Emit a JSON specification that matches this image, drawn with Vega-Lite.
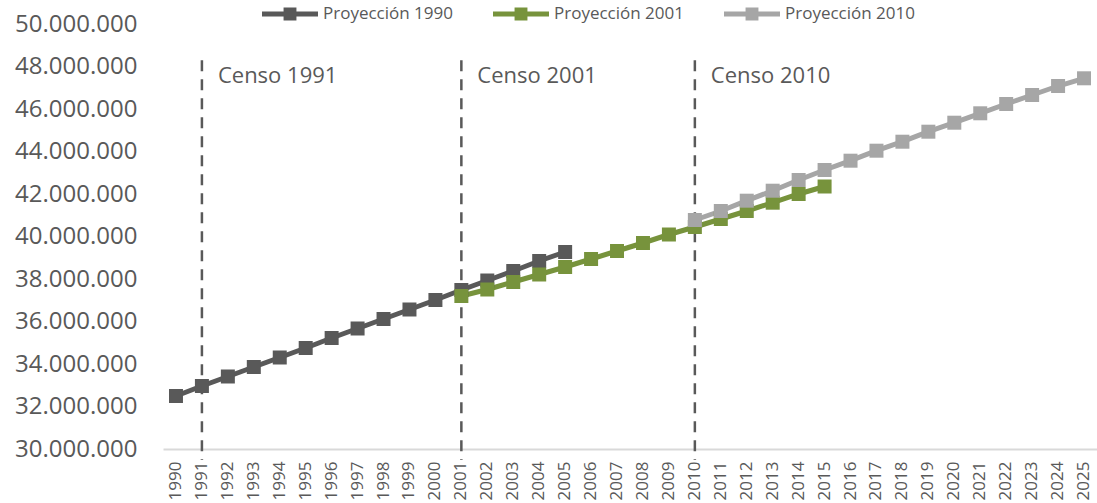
{
  "$schema": "https://vega.github.io/schema/vega-lite/v6.json",
  "width": 934,
  "height": 425,
  "autosize": "none",
  "padding": {"left": 163, "top": 24, "right": 0, "bottom": 54},
  "background": "white",
  "datasets": {
    "series": [
      {"serie": "Proyección 1990", "year": 1990, "value": 32494000},
      {"serie": "Proyección 1990", "year": 1991, "value": 32965000},
      {"serie": "Proyección 1990", "year": 1992, "value": 33412000},
      {"serie": "Proyección 1990", "year": 1993, "value": 33859000},
      {"serie": "Proyección 1990", "year": 1994, "value": 34306000},
      {"serie": "Proyección 1990", "year": 1995, "value": 34753000},
      {"serie": "Proyección 1990", "year": 1996, "value": 35224000},
      {"serie": "Proyección 1990", "year": 1997, "value": 35671000},
      {"serie": "Proyección 1990", "year": 1998, "value": 36118000},
      {"serie": "Proyección 1990", "year": 1999, "value": 36565000},
      {"serie": "Proyección 1990", "year": 2000, "value": 37012000},
      {"serie": "Proyección 1990", "year": 2001, "value": 37482000},
      {"serie": "Proyección 1990", "year": 2002, "value": 37929000},
      {"serie": "Proyección 1990", "year": 2003, "value": 38376000},
      {"serie": "Proyección 1990", "year": 2004, "value": 38847000},
      {"serie": "Proyección 1990", "year": 2005, "value": 39271000},
      {"serie": "Proyección 2001", "year": 2001, "value": 37200000},
      {"serie": "Proyección 2001", "year": 2002, "value": 37506000},
      {"serie": "Proyección 2001", "year": 2003, "value": 37859000},
      {"serie": "Proyección 2001", "year": 2004, "value": 38212000},
      {"serie": "Proyección 2001", "year": 2005, "value": 38565000},
      {"serie": "Proyección 2001", "year": 2006, "value": 38941000},
      {"serie": "Proyección 2001", "year": 2007, "value": 39318000},
      {"serie": "Proyección 2001", "year": 2008, "value": 39694000},
      {"serie": "Proyección 2001", "year": 2009, "value": 40094000},
      {"serie": "Proyección 2001", "year": 2010, "value": 40447000},
      {"serie": "Proyección 2001", "year": 2011, "value": 40824000},
      {"serie": "Proyección 2001", "year": 2012, "value": 41200000},
      {"serie": "Proyección 2001", "year": 2013, "value": 41591000},
      {"serie": "Proyección 2001", "year": 2014, "value": 42000000},
      {"serie": "Proyección 2001", "year": 2015, "value": 42353000},
      {"serie": "Proyección 2010", "year": 2010, "value": 40776000},
      {"serie": "Proyección 2010", "year": 2011, "value": 41200000},
      {"serie": "Proyección 2010", "year": 2012, "value": 41685000},
      {"serie": "Proyección 2010", "year": 2013, "value": 42155000},
      {"serie": "Proyección 2010", "year": 2014, "value": 42659000},
      {"serie": "Proyección 2010", "year": 2015, "value": 43129000},
      {"serie": "Proyección 2010", "year": 2016, "value": 43567000},
      {"serie": "Proyección 2010", "year": 2017, "value": 44038000},
      {"serie": "Proyección 2010", "year": 2018, "value": 44461000},
      {"serie": "Proyección 2010", "year": 2019, "value": 44932000},
      {"serie": "Proyección 2010", "year": 2020, "value": 45355000},
      {"serie": "Proyección 2010", "year": 2021, "value": 45798000},
      {"serie": "Proyección 2010", "year": 2022, "value": 46235000},
      {"serie": "Proyección 2010", "year": 2023, "value": 46659000},
      {"serie": "Proyección 2010", "year": 2024, "value": 47082000},
      {"serie": "Proyección 2010", "year": 2025, "value": 47445000}
    ],
    "censos": [
      {"year": 1991, "label": "Censo 1991"},
      {"year": 2001, "label": "Censo 2001"},
      {"year": 2010, "label": "Censo 2010"}
    ]
  },
  "layer": [
    {
      "data": {"name": "censos"},
      "mark": {"type": "rule", "color": "#595959", "strokeWidth": 2.5, "strokeDash": [11, 8]},
      "encoding": {
        "x": {"field": "year", "type": "ordinal", "title": null},
        "y": {"datum": 48300000, "type": "quantitative", "scale": {"domain": [30000000, 50000000], "zero": false, "nice": false}},
        "y2": {"datum": 29480000}
      }
    },
    {
      "data": {"name": "censos"},
      "mark": {"type": "text", "align": "left", "baseline": "alphabetic", "dx": 16, "font": "Open Sans", "fontSize": 22, "color": "#595959"},
      "encoding": {
        "x": {"field": "year", "type": "ordinal", "title": null},
        "y": {"datum": 47220000, "type": "quantitative"},
        "text": {"field": "label"}
      }
    },
    {
      "data": {"name": "series"},
      "mark": {"type": "line", "strokeWidth": 5},
      "encoding": {
        "x": {"field": "year", "type": "ordinal", "title": null},
        "y": {
          "field": "value", "type": "quantitative", "title": null,
          "scale": {"domain": [30000000, 50000000], "zero": false, "nice": false},
          "axis": {"values": [30000000, 32000000, 34000000, 36000000, 38000000, 40000000, 42000000, 44000000, 46000000, 48000000, 50000000], "format": ",d"}
        },
        "color": {"field": "serie", "type": "nominal", "title": null}
      }
    },
    {
      "data": {"name": "series"},
      "mark": {"type": "point", "shape": "square", "filled": true, "size": 196, "opacity": 1},
      "encoding": {
        "x": {"field": "year", "type": "ordinal", "title": null},
        "y": {"field": "value", "type": "quantitative", "title": null},
        "color": {
          "field": "serie",
          "type": "nominal",
          "title": null,
          "scale": {"domain": ["Proyección 1990", "Proyección 2001", "Proyección 2010"], "range": ["#595959", "#77933c", "#a6a6a6"]},
          "legend": {
            "orient": "none",
            "legendX": 99,
            "legendY": -38,
            "direction": "horizontal",
            "symbolType": "M-1,-0.09L1,-0.09L1,0.09L-1,0.09ZM-0.23,-0.23L0.23,-0.23L0.23,0.23L-0.23,0.23Z",
            "symbolSize": 3136,
            "symbolStrokeWidth": 0,
            "labelOffset": 5,
            "columnPadding": 40,
            "labelFont": "Open Sans",
            "labelFontSize": 17,
            "labelColor": "#595959",
            "encode": {"symbols": {"update": {"fill": {"scale": "color", "field": "value"}, "opacity": {"value": 1}}}}
          }
        }
      }
    }
  ],
  "config": {
    "view": {"stroke": null},
    "locale": {"number": {"decimal": ",", "thousands": ".", "grouping": [3], "currency": ["$", ""]}},
    "scale": {"pointPadding": 0.5},
    "axisX": {"grid": false, "ticks": false, "tickSize": 0, "domainColor": "#d9d9d9", "domainWidth": 2, "labelAngle": -90, "labelFont": "Open Sans", "labelFontSize": 17, "labelColor": "#595959", "labelPadding": 12},
    "axisY": {"grid": false, "ticks": false, "tickSize": 0, "domain": false, "labelFont": "Open Sans", "labelFontSize": 24, "labelColor": "#595959", "labelPadding": 26}
  }
}
